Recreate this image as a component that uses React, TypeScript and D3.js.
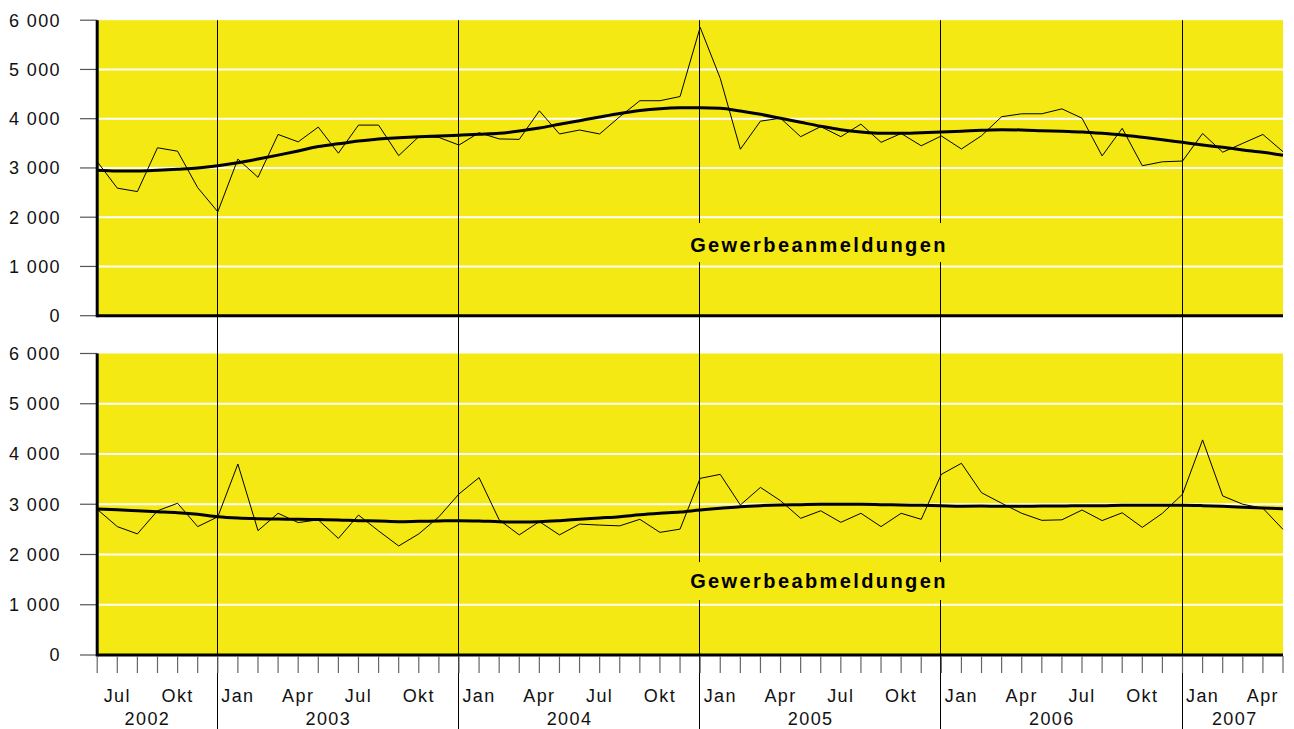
import React from "react";
import * as d3 from "d3";

// Months from Jun 2002 (index 0) to May 2007 (index 59)
const anmeldungen = [
  3130, 2590, 2520, 3410, 3340, 2600, 2110, 3180, 2810, 3680, 3530, 3830,
  3300, 3870, 3870, 3250, 3635, 3620, 3465, 3715, 3590, 3580, 4160, 3690,
  3770, 3690, 4040, 4365, 4365, 4450, 5855, 4820, 3380, 3950, 4010, 3635,
  3840, 3635, 3890, 3520, 3700, 3450, 3650, 3385, 3655, 4040, 4100, 4100,
  4200, 4010, 3245, 3805, 3045, 3125, 3140, 3700, 3320, 3500, 3680, 3330,
];
const anmeldungenTrend = [
  2955, 2940, 2940, 2955, 2975, 3000, 3045, 3105, 3180, 3260, 3345, 3435,
  3490, 3545, 3588, 3614, 3635, 3649, 3665, 3683, 3703, 3750, 3811, 3886,
  3960, 4034, 4105, 4165, 4203, 4220, 4222, 4211, 4156, 4089, 4008, 3927,
  3846, 3777, 3730, 3703, 3703, 3716, 3730, 3745, 3764, 3777, 3771, 3757,
  3744, 3730, 3703, 3669, 3622, 3574, 3520, 3466, 3419, 3365, 3318, 3257,
];
const abmeldungen = [
  2900, 2555, 2410, 2870, 3020, 2555, 2750, 3800, 2475, 2820, 2635, 2690,
  2320, 2785, 2470, 2170, 2410, 2750, 3205, 3530, 2690, 2390, 2655, 2390,
  2605, 2585, 2570, 2700, 2440, 2505, 3515, 3595, 2985, 3335, 3070, 2720,
  2870, 2640, 2820, 2555, 2820, 2700, 3595, 3815, 3230, 3020, 2820, 2680,
  2690, 2885, 2675, 2830, 2540, 2820, 3200, 4280, 3165, 3000, 2920, 2500,
];
const abmeldungenTrend = [
  2905, 2892, 2872, 2852, 2832, 2800, 2752, 2726, 2713, 2706, 2700, 2695,
  2687, 2673, 2667, 2653, 2660, 2667, 2673, 2667, 2653, 2647, 2653, 2673,
  2700, 2726, 2752, 2790, 2820, 2846, 2886, 2919, 2952, 2972, 2985, 2992,
  2998, 2998, 2998, 2992, 2985, 2979, 2972, 2962, 2965, 2960, 2960, 2965,
  2965, 2972, 2972, 2979, 2979, 2979, 2979, 2972, 2959, 2939, 2925, 2912,
];

const yTicks = [0, 1000, 2000, 3000, 4000, 5000, 6000];
const monthLabels = ["Jul", "Okt", "Jan", "Apr"];
const monthLabelStart = 1; // index of first labelled month (Jul 2002)
const yearBoundaries = [6, 18, 30, 42, 54];
const yearLabels = ["2002", "2003", "2004", "2005", "2006", "2007"];
const yearLabelPos = [2.5, 11.5, 23.5, 35.5, 47.5, 56.6];

const YELLOW = "#f4e912";
const FONT = "'Liberation Sans', Arial, Helvetica, sans-serif";

const nMonths = anmeldungen.length;
const x = d3.scaleLinear().domain([0, nMonths - 1]).range([97.2, 1283]);
const yTop = d3.scaleLinear().domain([0, 6000]).range([315.7, 20.2]);
const yBot = d3.scaleLinear().domain([0, 6000]).range([655, 353.5]);

const fmt = (v: number) => {
  const s = d3.format("d")(v);
  return s.length > 3 ? s.slice(0, s.length - 3) + " " + s.slice(s.length - 3) : s;
};

function Panel({
  y,
  raw,
  trend,
  label,
  labelY,
}: {
  y: d3.ScaleLinear<number, number>;
  raw: number[];
  trend: number[];
  label: string;
  labelY: number;
}) {
  const x0 = x(0);
  const x1 = x(nMonths - 1);
  const rawLine = d3
    .line<number>()
    .x((_, i) => x(i))
    .y((d) => y(d));
  const trendLine = d3
    .line<number>()
    .x((_, i) => x(i))
    .y((d) => y(d))
    .curve(d3.curveMonotoneX);
  return (
    <g>
      <rect x={x0} y={y(6000)} width={x1 - x0} height={y(0) - y(6000)} fill={YELLOW} />
      {yTicks
        .filter((t) => t > 0 && t < 6000)
        .map((t) => (
          <line key={t} x1={x0} x2={x1} y1={y(t)} y2={y(t)} stroke="#fff" strokeWidth={2} />
        ))}
      {yTicks.map((t) => (
        <g key={"t" + t}>
          <line x1={80} x2={x0} y1={y(t)} y2={y(t)} stroke="#555" strokeWidth={1.2} />
          <text
            x={61}
            y={y(t)}
            dy="0.36em"
            textAnchor="end"
            fontFamily={FONT}
            fontSize={18}
            letterSpacing={1.4}
            fill="#111"
          >
            {fmt(t)}
          </text>
        </g>
      ))}
      <path d={rawLine(raw) || ""} fill="none" stroke="#000" strokeWidth={1} strokeLinejoin="miter" />
      <path d={trendLine(trend) || ""} fill="none" stroke="#000" strokeWidth={3} />
      <rect x={688} y={labelY - 29} width={262} height={39} fill={YELLOW} />
      <text
        x={819}
        y={labelY}
        textAnchor="middle"
        fontFamily={FONT}
        fontWeight="bold"
        fontSize={20}
        letterSpacing={2.4}
        fill="#000"
      >
        {label}
      </text>
      <line x1={x0} x2={x0} y1={y(6000)} y2={y(0) + 1.5} stroke="#000" strokeWidth={3} />
      <line x1={x0} x2={x1} y1={y(0)} y2={y(0)} stroke="#000" strokeWidth={3} />
    </g>
  );
}

export default function App() {
  const months = d3.range(nMonths);
  const lineX = (b: number) => Math.round(x(b)) - 0.5;
  return (
    <svg
      width={1294}
      height={729}
      style={{ position: "absolute", left: 0, top: 0, background: "#fff" }}
    >
      <Panel y={yTop} raw={anmeldungen} trend={anmeldungenTrend} label="Gewerbeanmeldungen" labelY={252} />
      <Panel y={yBot} raw={abmeldungen} trend={abmeldungenTrend} label="Gewerbeabmeldungen" labelY={588} />
      {/* year boundary lines, interrupted under the panel labels */}
      {yearBoundaries.map((b) => {
        const xx = lineX(b);
        const hidden = xx > 688 && xx < 950;
        const segs: [number, number][] = hidden
          ? [
              [yTop(6000), 223],
              [262, 562],
              [600, 729],
            ]
          : [[yTop(6000), 729]];
        return segs.map(([a, c], k) => (
          <line
            key={"yl" + b + "-" + k}
            x1={xx}
            x2={xx}
            y1={a}
            y2={c}
            stroke="#000"
            strokeWidth={1}
          />
        ));
      })}
      {/* month ticks */}
      {months.map((i) => (
        <line
          key={"mt" + i}
          x1={x(i)}
          x2={x(i)}
          y1={656}
          y2={673}
          stroke="#666"
          strokeWidth={1.2}
        />
      ))}
      {months
        .filter((i) => i >= monthLabelStart && (i - monthLabelStart) % 3 === 0)
        .map((i) => (
          <text
            key={"ml" + i}
            x={x(i)}
            y={702}
            textAnchor="middle"
            fontFamily={FONT}
            fontSize={18}
            letterSpacing={1.4}
            fill="#111"
          >
            {monthLabels[((i - monthLabelStart) / 3) % 4]}
          </text>
        ))}
      {yearLabels.map((yl, k) => (
        <text
          key={yl}
          x={x(yearLabelPos[k])}
          y={725}
          textAnchor="middle"
          fontFamily={FONT}
          fontSize={18}
          letterSpacing={1.4}
          fill="#111"
        >
          {yl}
        </text>
      ))}
    </svg>
  );
}
